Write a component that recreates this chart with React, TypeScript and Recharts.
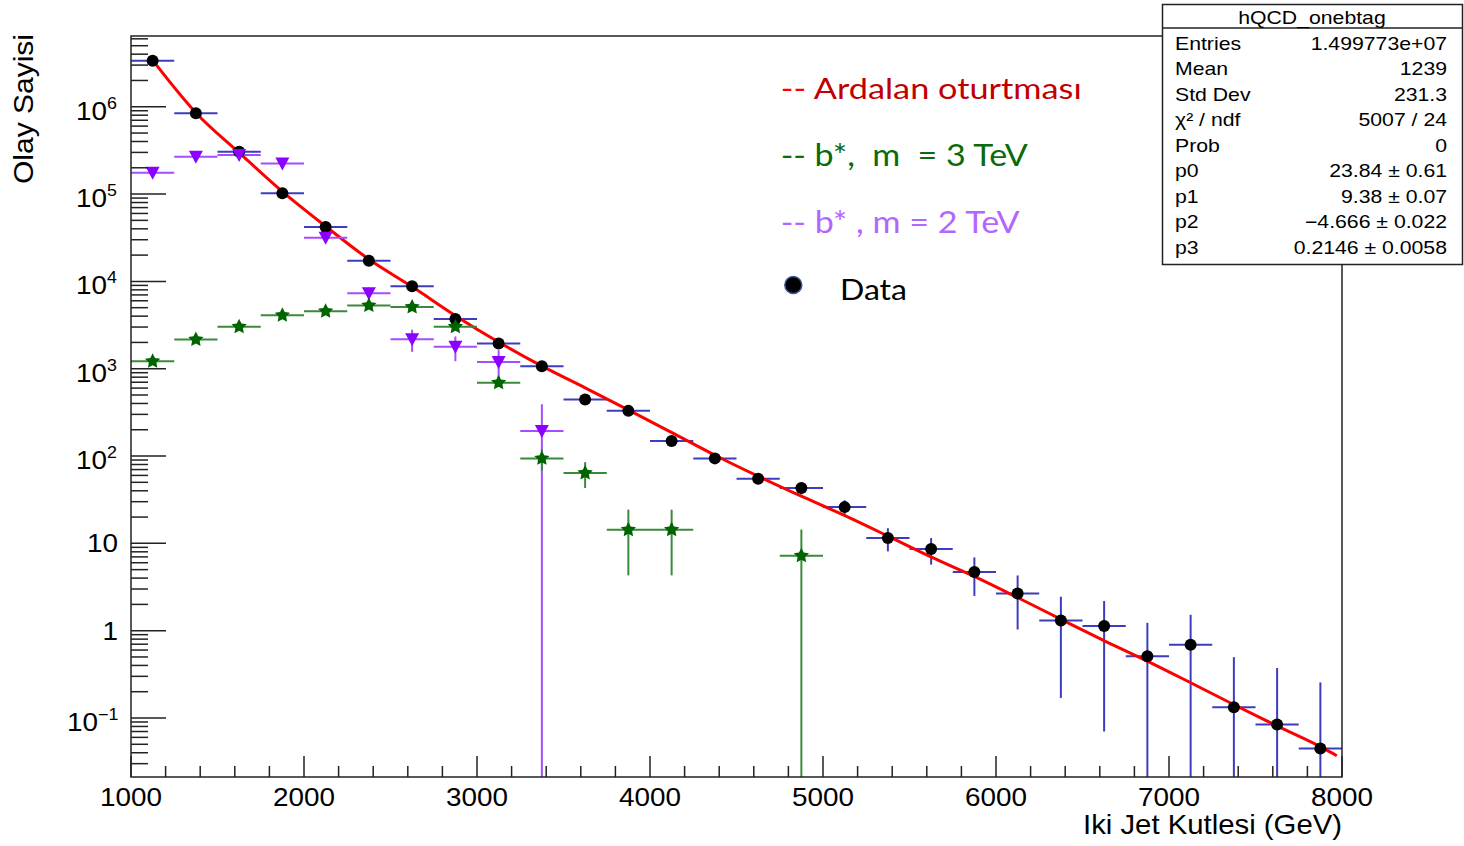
import { ComposedChart, XAxis, YAxis, Scatter, Line, ErrorBar } from "recharts";

// dijet mass bins (GeV), bin half width 125
const dataMass = [1125, 1375, 1625, 1875, 2125, 2375, 2625, 2875, 3125, 3375, 3625, 3875, 4125, 4375, 4625, 4875, 5125, 5375, 5625, 5875, 6125, 6375, 6625, 6875, 7125, 7375, 7625, 7875];
const dataCounts = [3.37e6, 8.4e5, 3.05e5, 1.02e5, 4.2e4, 1.72e4, 8.8e3, 3.7e3, 1.95e3, 1.07e3, 445, 329, 149, 94, 55, 43, 26, 11.5, 8.6, 4.7, 2.66, 1.31, 1.13, 0.51, 0.69, 0.133, 0.084, 0.0447];
const dataErrors = [1836, 917, 552, 319, 205, 131, 94, 61, 44, 33, 21, 18, 12.2, 9.7, 7.4, 6.6, 5.1, 3.4, 2.9, 2.2, 1.63, 1.14, 1.06, 0.72, 0.83, 0.365, 0.29, 0.211];

const bstar2Mass = [1125, 1375, 1625, 1875, 2125, 2375, 2625, 2875, 3125, 3375];
const bstar2Counts = [1.75e5, 2.67e5, 2.8e5, 2.24e5, 3.16e4, 7.3e3, 2.18e3, 1.78e3, 1.19e3, 193];
const bstar2Errors = [5900, 7300, 7480, 6700, 2500, 1200, 620, 560, 440, 200];

const bstar3Mass = [1125, 1375, 1625, 1875, 2125, 2375, 2625, 2875, 3125, 3375, 3625, 3875, 4125, 4875];
const bstar3Counts = [1220, 2160, 3020, 4100, 4560, 5300, 5100, 3020, 689, 94, 64, 14.3, 14.3, 7.2];
const bstar3Errors = [92, 123, 145, 170, 180, 193, 189, 145, 70, 26, 21, 10, 10, 7.2];

// background fit
const fitMass = [1127, 1376, 1626, 1877, 2127, 2377, 2628, 2879, 3129, 3376, 3628, 3877, 4127, 4376, 4630, 4884, 5133, 5387, 5630, 5883, 6133, 6382, 6630, 6883, 7131, 7382, 7630, 7883, 7970];
const fitValues = [3.37e6, 8.5e5, 2.97e5, 1.06e5, 4.25e4, 1.78e4, 8.6e3, 4.0e3, 2.0e3, 1.07e3, 600, 335, 185, 102, 58, 34, 20.5, 11.8, 6.9, 4.1, 2.35, 1.33, 0.76, 0.44, 0.25, 0.14, 0.08, 0.046, 0.037];

const xMajorTicks = [1000, 2000, 3000, 4000, 5000, 6000, 7000, 8000];
const yMajorTicks = [0.1, 1, 10, 100, 1000, 1e4, 1e5, 1e6];
const yTickLabels: Record<number, { base: string; exp?: string }> = {
  [-1]: { base: "10", exp: "\u22121" },
  0: { base: "1" },
  1: { base: "10" },
  2: { base: "10", exp: "2" },
  3: { base: "10", exp: "3" },
  4: { base: "10", exp: "4" },
  5: { base: "10", exp: "5" },
  6: { base: "10", exp: "6" },
};

const statsTitle = "hQCD_onebtag";
const statsLabels = ["Entries", "Mean", "Std Dev", "\u03c7\u00b2 / ndf", "Prob", "p0", "p1", "p2", "p3"];
const statsValues = ["1.499773e+07", "1239", "231.3", "5007 / 24", "0", "23.84 \u00b1 0.61", "9.38 \u00b1 0.07", "\u22124.666 \u00b1 0.022", "0.2146 \u00b1 0.0058"];

const Y_MIN = 0.0211;
const Y_MAX = 6.46e6;
const BIN_HALF = 125;
const FONT = "'Liberation Sans', Arial, Helvetica, sans-serif";
const LEGEND_FONT = "Lato, 'Open Sans', sans-serif";

const xTicks: number[] = [];
for (let v = 1000; v <= 8000; v += 200) xTicks.push(v);
const yTicks: number[] = [];
for (let k = -2; k <= 6; k++) {
  for (let m = 1; m <= 9; m++) {
    const v = m * Math.pow(10, k);
    if (v >= Y_MIN && v <= Y_MAX) yTicks.push(v);
  }
}

const toRows = (xs: number[], ys: number[], errs: number[]) =>
  xs.map((x, i) => ({
    x,
    y: ys[i],
    ex: BIN_HALF,
    ey: [Math.min(errs[i], ys[i] - Y_MIN), errs[i]],
  }));

const dataRows = toRows(dataMass, dataCounts, dataErrors);
const bstar2Rows = toRows(bstar2Mass, bstar2Counts, bstar2Errors);
const bstar3Rows = toRows(bstar3Mass, bstar3Counts, bstar3Errors);
const fitRows = fitMass.map((x, i) => ({ x, y: fitValues[i] }));

function XTick(props: any) {
  const { x, y, payload } = props;
  const v = payload.value;
  const major = xMajorTicks.includes(v);
  return (
    <g>
      <line x1={x} x2={x} y1={y} y2={y - (major ? 21 : 11)} stroke="#222" strokeWidth={1.5} />
      {major && (
        <text transform={`translate(${x},${y + 29}) scale(1.115,1)`} textAnchor="middle" fontSize={25} fontFamily={FONT} fill="#000">
          {v}
        </text>
      )}
    </g>
  );
}

function YTick(props: any) {
  const { x, y, payload } = props;
  const v = payload.value;
  const lg = Math.log10(v);
  const major = yMajorTicks.some((t) => Math.abs(Math.log10(t) - lg) < 1e-6);
  const label = major ? yTickLabels[Math.round(lg)] : undefined;
  let text = null;
  if (label) {
    if (label.exp) {
      const baseRight = label.exp.length > 1 ? 98 : 107;
      text = (
        <g>
          <text transform={`translate(${baseRight},${y + 13}) scale(1.115,1)`} textAnchor="end" fontSize={25} fontFamily={FONT} fill="#000">
            {label.base}
          </text>
          <text transform={`translate(${baseRight},${y + 2}) scale(1.115,1)`} textAnchor="start" fontSize={16} fontFamily={FONT} fill="#000">
            {label.exp}
          </text>
        </g>
      );
    } else {
      text = (
        <text transform={`translate(118,${y + 9}) scale(1.115,1)`} textAnchor="end" fontSize={25} fontFamily={FONT} fill="#000">
          {label.base}
        </text>
      );
    }
  }
  return (
    <g>
      <line x1={x} x2={x + (major ? 35 : 17)} y1={y} y2={y} stroke="#222" strokeWidth={1.5} />
      {text}
    </g>
  );
}

const DataMarker = (p: any) => <circle cx={p.cx} cy={p.cy} r={6} fill="#000" />;
const TriangleMarker = (p: any) => (
  <polygon points={`${p.cx - 7},${p.cy - 6} ${p.cx + 7},${p.cy - 6} ${p.cx},${p.cy + 7}`} fill="#8c00ff" />
);
const StarMarker = (p: any) => {
  const pts: string[] = [];
  for (let i = 0; i < 10; i++) {
    const r = i % 2 === 0 ? 8 : 4;
    const a = -Math.PI / 2 + (i * Math.PI) / 5;
    pts.push(`${p.cx + r * Math.cos(a)},${p.cy + r * Math.sin(a)}`);
  }
  return <polygon points={pts.join(" ")} fill="#006400" />;
};

export default function App() {
  const sx = 1.18;
  return (
    <div style={{ position: "absolute", left: 0, top: 0, width: 1464, height: 846, background: "#fff" }}>
      <ComposedChart width={1464} height={846} margin={{ top: 36, right: 122, bottom: 0, left: 0 }}>
        <XAxis
          type="number"
          dataKey="x"
          domain={[1000, 8000]}
          ticks={xTicks}
          interval={0}
          height={69}
          tickSize={0}
          tickMargin={0}
          tickLine={false}
          axisLine={false}
          tick={(p: any) => <XTick {...p} />}
          allowDataOverflow
        />
        <YAxis
          type="number"
          dataKey="y"
          scale="log"
          domain={[Y_MIN, Y_MAX]}
          ticks={yTicks}
          interval={0}
          width={131}
          tickSize={0}
          tickMargin={0}
          tickLine={false}
          axisLine={false}
          tick={(p: any) => <YTick {...p} />}
          allowDataOverflow
        />
        <Scatter data={dataRows} dataKey="y" shape={DataMarker} isAnimationActive={false}>
          <ErrorBar dataKey="ex" direction="x" width={0} stroke="#3c3cbe" strokeWidth={2} isAnimationActive={false} />
          <ErrorBar dataKey="ey" direction="y" width={0} stroke="#3c3cbe" strokeWidth={2} isAnimationActive={false} />
        </Scatter>
        <Line data={fitRows} dataKey="y" type="monotone" stroke="#ff0000" strokeWidth={3} dot={false} isAnimationActive={false} />
        <Scatter data={bstar2Rows} dataKey="y" shape={TriangleMarker} isAnimationActive={false}>
          <ErrorBar dataKey="ex" direction="x" width={0} stroke="#a64dff" strokeWidth={2} isAnimationActive={false} />
          <ErrorBar dataKey="ey" direction="y" width={0} stroke="#a64dff" strokeWidth={2} isAnimationActive={false} />
        </Scatter>
        <Scatter data={bstar3Rows} dataKey="y" shape={StarMarker} isAnimationActive={false}>
          <ErrorBar dataKey="ex" direction="x" width={0} stroke="#3a8a3a" strokeWidth={2} isAnimationActive={false} />
          <ErrorBar dataKey="ey" direction="y" width={0} stroke="#3a8a3a" strokeWidth={2} isAnimationActive={false} />
        </Scatter>
      </ComposedChart>

      <svg width={1464} height={846} style={{ position: "absolute", left: 0, top: 0, pointerEvents: "none" }}>
        {/* frame */}
        <rect x={131} y={36} width={1211} height={741} fill="none" stroke="#222" strokeWidth={1.5} />

        {/* axis titles */}
        <text transform="translate(33,109) rotate(-90)" textAnchor="middle" fontSize={27} fontFamily={FONT} textLength={150} lengthAdjust="spacingAndGlyphs" fill="#000">
          Olay Sayisi
        </text>
        <text x={1342} y={834} textAnchor="end" fontSize={28} fontFamily={FONT} textLength={259} lengthAdjust="spacingAndGlyphs" fill="#000">
          Iki Jet Kutlesi (GeV)
        </text>

        {/* legend */}
        <text x={780.7} y={99.3} fontSize={29} fontFamily={LEGEND_FONT} textLength={301} lengthAdjust="spacingAndGlyphs" style={{ whiteSpace: "pre" }}>
          <tspan fill="#ff0000">-- </tspan>
          <tspan fill="#c00000">Ardalan oturtması</tspan>
        </text>
        <text x={780.7} y={166} fontSize={30} fontFamily={LEGEND_FONT} textLength={247} lengthAdjust="spacingAndGlyphs" fill="#0b6a0b" style={{ whiteSpace: "pre" }}>
          {"-- b*,  m  = 3 TeV"}
        </text>
        <text x={780.7} y={232.7} fontSize={30} fontFamily={LEGEND_FONT} textLength={239} lengthAdjust="spacingAndGlyphs" fill="#b366ff" style={{ whiteSpace: "pre" }}>
          {"-- b* , m = 2 TeV"}
        </text>
        <circle cx={793.3} cy={285} r={8.5} fill="#000" stroke="#3a5a9a" strokeWidth={1.5} />
        <text x={840} y={300} fontSize={29} fontFamily={LEGEND_FONT} textLength={67} lengthAdjust="spacingAndGlyphs" fill="#000">
          Data
        </text>

        {/* stats box */}
        <rect x={1162.5} y={4.5} width={300} height={260} fill="#fff" stroke="#222" strokeWidth={1.5} />
        <line x1={1162.5} x2={1462.5} y1={28} y2={28} stroke="#222" strokeWidth={1.5} />
        <g transform={`translate(1162,0) scale(${sx},1)`} fontFamily={FONT} fontSize={18} fill="#000">
          <text x={150 / sx} y={24} textAnchor="middle">
            {statsTitle}
          </text>
          {statsLabels.map((lab, i) => (
            <g key={lab}>
              <text x={13 / sx} y={50 + i * 25.5}>
                {lab}
              </text>
              <text x={285 / sx} y={50 + i * 25.5} textAnchor="end">
                {statsValues[i]}
              </text>
            </g>
          ))}
        </g>
      </svg>
    </div>
  );
}
